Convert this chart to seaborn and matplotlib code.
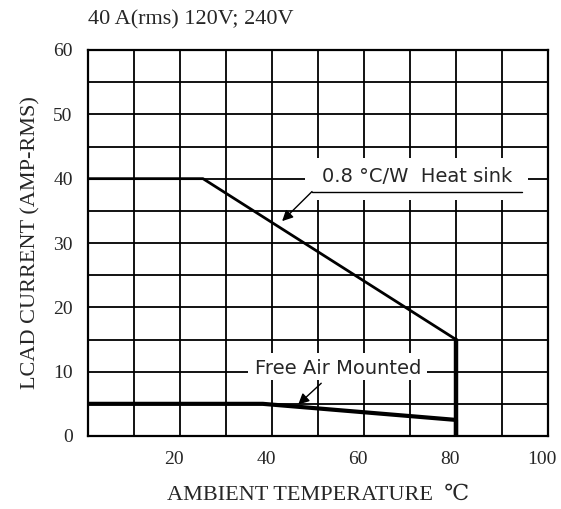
import numpy as np
import pandas as pd
import matplotlib
matplotlib.use("Agg")
import matplotlib.pyplot as plt
import matplotlib.transforms as mtransforms
from matplotlib.patches import Rectangle
import seaborn as sns

# Derating curves
heatsink_temp = [0, 25, 80, 80]
heatsink_current = [40, 40, 15, 0]
freeair_temp = [0, 38, 80, 80]
freeair_current = [5, 5, 2.5, 0]

x_ticks = np.arange(0, 101, 10)
x_labels = ["", "", "20", "", "40", "", "60", "", "80", "", "100"]
y_ticks = np.arange(0, 61, 5)
y_labels = [str(v) if v % 10 == 0 else "" for v in y_ticks]

df_hs = pd.DataFrame({"temp": heatsink_temp, "current": heatsink_current})
df_fa = pd.DataFrame({"temp": freeair_temp, "current": freeair_current})

sns.set_style("white")
serif = ["Liberation Serif", "DejaVu Serif"]
sans = ["DejaVu Sans"]

fig = plt.figure(figsize=(5.61, 5.09), dpi=100)
ax = fig.add_axes([88 / 561, 1 - 436 / 509, 460 / 561, 386 / 509])

sns.lineplot(data=df_hs, x="temp", y="current", ax=ax, color="black", lw=2,
             estimator=None, sort=False, zorder=3)
sns.lineplot(data=df_fa, x="temp", y="current", ax=ax, color="black", lw=3,
             estimator=None, sort=False, zorder=3)
# thicker drop at 80 degC
ax.plot(heatsink_temp[2:], heatsink_current[2:], color="black", lw=3.2, zorder=3)

ax.set_xlim(0, 100)
ax.set_ylim(0, 60)
ax.set_xticks(x_ticks)
ax.set_xticklabels(x_labels, family=serif, fontsize=14)
ax.set_yticks(y_ticks)
ax.set_yticklabels(y_labels, family=serif, fontsize=14)
ax.tick_params(length=0, pad=11)
ax.grid(True, color="black", lw=1.3)
for sp in ax.spines.values():
    sp.set_color("black")
    sp.set_linewidth(1.6)

# the original x labels sit a little left of their grid lines
shift = mtransforms.ScaledTranslation(-6 / 100, 0, fig.dpi_scale_trans)
for lbl in ax.get_xticklabels():
    lbl.set_transform(lbl.get_transform() + shift)

ax.set_xlabel("AMBIENT TEMPERATURE  \u2103", family=serif, fontsize=16, labelpad=13)
ax.set_ylabel("LCAD CURRENT (AMP-RMS)", family=serif, fontsize=16, labelpad=9)
fig.text(88 / 561, 1 - 20 / 509, "40 A(rms) 120V; 240V", family=serif,
         fontsize=16, ha="left", va="center")

# Heat sink label: white box, underline and arrow
ax.add_patch(Rectangle((47.2, 36.7), 48.5, 6.5, facecolor="white",
                       edgecolor="none", zorder=2.5))
ax.text(71.5, 40.4, "0.8 \u00b0C/W  Heat sink", family=sans, fontsize=14,
        ha="center", va="center", zorder=4)
ax.plot([48.7, 94.3], [38.0, 38.0], color="black", lw=1, zorder=5)
ax.annotate("", xy=(42.2, 33.4), xytext=(48.7, 38.0), zorder=5,
            arrowprops=dict(arrowstyle="-|>", color="black", lw=1,
                            mutation_scale=16, shrinkA=0, shrinkB=0))

# Free air label with arrow
ax.add_patch(Rectangle((34.8, 8.7), 38.9, 4.2, facecolor="white",
                       edgecolor="none", zorder=2.5))
ax.text(54.3, 10.5, "Free Air Mounted", family=sans, fontsize=14,
        ha="center", va="center", zorder=4)
ax.annotate("", xy=(45.7, 4.9), xytext=(50.7, 8.2), zorder=5,
            arrowprops=dict(arrowstyle="-|>", color="black", lw=1,
                            mutation_scale=16, shrinkA=0, shrinkB=0))

fig.savefig("out.png", dpi=100)
